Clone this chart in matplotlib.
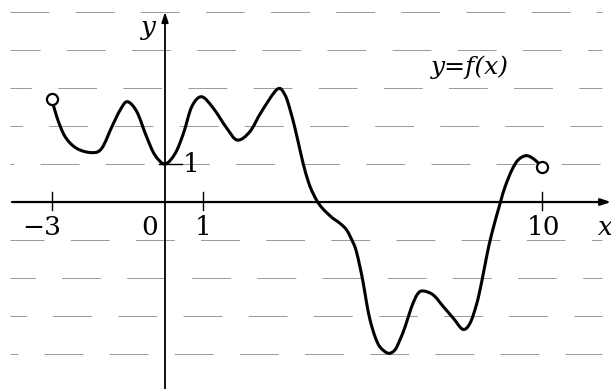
import matplotlib.pyplot as plt
import numpy as np
from matplotlib.path import Path
from matplotlib.patches import PathPatch

# точки графика y=f(x)
x = [-3.0, -2.87, -2.65, -2.34, -1.94, -1.68, -1.41, -1.19, -1.0, -0.75,
     -0.49, -0.27, 0.0, 0.27, 0.49, 0.71, 0.97, 1.28, 1.64, 1.92,
     2.25, 2.56, 2.98, 3.18, 3.32, 3.46, 3.58, 3.71, 3.85, 4.02,
     4.18, 4.42, 4.64, 4.82, 4.99, 5.07, 5.17, 5.26, 5.35, 5.44,
     5.57, 5.70, 5.92, 6.10, 6.23, 6.37, 6.54, 6.70, 6.85, 7.12,
     7.38, 7.65, 7.90, 8.09, 8.27, 8.40, 8.53, 8.67, 8.89, 9.02,
     9.20, 9.37, 9.59, 9.81, 10.0]
y = [2.71, 2.24, 1.72, 1.41, 1.30, 1.41, 1.98, 2.42, 2.64, 2.38,
     1.72, 1.24, 1.0, 1.28, 1.81, 2.51, 2.77, 2.47, 1.94, 1.63,
     1.85, 2.38, 2.97, 2.82, 2.42, 1.89, 1.37, 0.84, 0.40, 0.05,
     -0.17, -0.40, -0.56, -0.74, -1.07, -1.28, -1.70, -2.14, -2.67, -3.11,
     -3.54, -3.81, -3.98, -3.89, -3.63, -3.28, -2.76, -2.42, -2.34, -2.45,
     -2.75, -3.06, -3.35, -3.19, -2.67, -2.10, -1.44, -0.82, -0.03, 0.40,
     0.84, 1.11, 1.22, 1.11, 0.91]

grid_y = [5, 4, 3, 2, 1, -1, -2, -3, -4]
xticks = [-3, 1, 10]
xlabels = ['\u22123', '0', '1', '10']
xlabel_pos = [-3.26, -0.40, 1.0, 10.03]

fig = plt.figure(figsize=(6.11, 3.89), dpi=100)
ax = fig.add_axes([0, 0, 1, 1])
ax.set_xlim(-4.377, 11.83)
ax.set_ylim(-4.92, 5.316)
ax.axis('off')

# сетка пунктиром
for i, gy in enumerate(grid_y):
    ax.plot([-4.1, 11.6], [gy, gy], color='#999999', lw=0.7,
            linestyle=(i * 9 % 40, (40, 27)), zorder=1)

# оси со стрелками
ax.annotate('', xy=(11.83, 0), xytext=(-4.06, 0),
            arrowprops=dict(arrowstyle='-|>,head_length=0.6,head_width=0.2',
                            color='black', lw=1.6, shrinkA=0, shrinkB=0))
ax.annotate('', xy=(0, 5.0), xytext=(0, -4.92),
            arrowprops=dict(arrowstyle='-|>,head_length=0.6,head_width=0.2',
                            color='black', lw=1.3, shrinkA=0, shrinkB=0))

for t in xticks:
    ax.plot([t, t], [-0.22, 0.26], color='black', lw=1.0)
ax.plot([-0.15, 0.45], [1, 1], color='black', lw=1.0)

font = dict(family='DejaVu Serif', size=19, color='black')
for lab, px in zip(xlabels, xlabel_pos):
    ax.text(px, -0.66, lab, ha='center', va='center', **font)
ax.text(0.69, 1.0, '1', ha='center', va='center', **font)
ax.text(11.67, -0.68, 'x', ha='center', va='center', style='italic', **font)
ax.text(-0.45, 4.6, 'y', ha='center', va='center', style='italic', **font)
ax.text(8.09, 3.55, 'y=f(x)', ha='center', va='center', style='italic',
        family='DejaVu Serif', size=18)

# сам график: гладкая кривая Безье через точки (Catmull-Rom)
p = np.column_stack([x, y])
verts = [p[0]]
codes = [Path.MOVETO]
for k in range(len(p) - 1):
    p0 = p[k - 1] if k > 0 else p[k]
    p3 = p[k + 2] if k + 2 < len(p) else p[k + 1]
    c1 = p[k] + (p[k + 1] - p0) / 6
    c2 = p[k + 1] - (p3 - p[k]) / 6
    verts += [c1, c2, p[k + 1]]
    codes += [Path.CURVE4] * 3
ax.add_patch(PathPatch(Path(verts, codes), fill=False, ec='black', lw=2.2,
                       joinstyle='round', capstyle='round', zorder=3))
ax.plot([x[0], x[-1]], [y[0], y[-1]], 'o', ms=8, mfc='white', mec='black',
        mew=1.6, zorder=4)

fig.savefig('out.png', dpi=100)
